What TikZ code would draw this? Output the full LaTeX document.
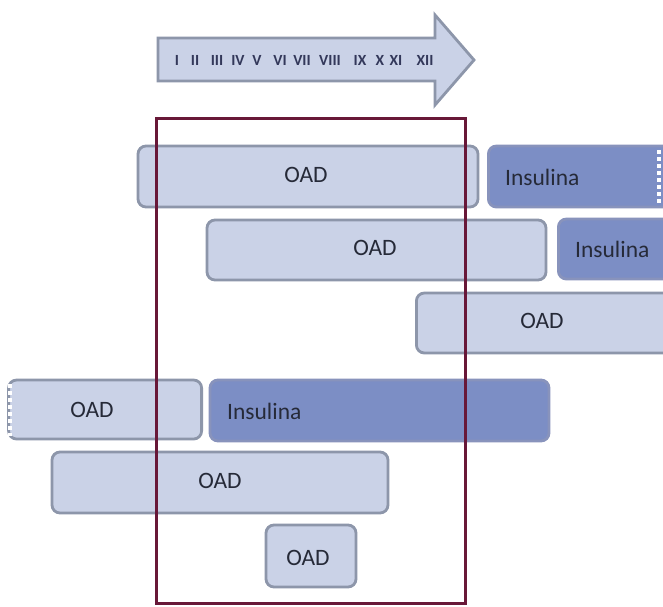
\documentclass[tikz,border=0pt]{standalone}
\usepackage{fontspec}
\setmainfont{Carlito}
\definecolor{lightfill}{HTML}{CAD2E7}
\definecolor{lightdraw}{HTML}{8D96AA}
\definecolor{insfill}{HTML}{7C8EC5}
\definecolor{insdraw}{HTML}{8893BC}
\definecolor{txtcol}{HTML}{262A38}
\definecolor{frame}{HTML}{681838}
\definecolor{numcol}{HTML}{33385A}
\begin{document}
\begin{tikzpicture}[x=1pt,y=-1pt,
  oadbox/.style={draw=lightdraw, fill=lightfill, line width=2.8pt, rounded corners=8pt, inner sep=0pt},
  insbox/.style={draw=insdraw, fill=insfill, line width=2.8pt, rounded corners=8pt, inner sep=0pt},
  oadtxt/.style={inner sep=0pt, font=\fontsize{23.5}{27}\selectfont, text=txtcol},
  instxt/.style={anchor=west, inner sep=0pt, font=\fontsize{23.5}{27}\selectfont, text=txtcol},
  torn/.style={draw=white, line width=3.5pt, dash pattern=on 3.5pt off 3.5pt},
  numtxt/.style={inner sep=0pt, font=\bfseries\fontsize{15.5}{17}\selectfont, text=numcol}]
\path[use as bounding box, clip] (0,0) rectangle (663,606);
\fill[white] (0,0) rectangle (663,606);
% timeline arrow
\draw[draw=lightdraw, fill=lightfill, line width=2.8pt, line join=miter]
  (158,38) -- (435,38) -- (435,15) -- (474,60) -- (435,105) -- (435,81) -- (158,81) -- cycle;
\foreach \n/\x in {I/177, II/195, III/217, IV/238, V/257, VI/280, VII/302, VIII/330, IX/360, X/380, XI/396, XII/425}
  \node[numtxt] (num\n) at (\x,60) {\n};
% row 1
\node[oadbox, minimum width=340pt, minimum height=61pt] (a) at (308,176.5) {};
\node[oadtxt] (at) at (306,175) {OAD};
\node[insbox, minimum width=195pt, minimum height=61pt, anchor=west] (b) at (487,176.5) {};
\node[instxt] (bt) at (505,177) {Insulina};
\draw[torn] (659,150) -- (659,203);
% row 2
\node[oadbox, minimum width=339pt, minimum height=60pt] (c) at (376.5,250) {};
\node[oadtxt] (ct) at (375,248) {OAD};
\node[insbox, minimum width=125pt, minimum height=60pt, anchor=west] (d) at (557,249) {};
\node[instxt] (dt) at (575,249) {Insulina};
% row 3
\node[oadbox, minimum width=270pt, minimum height=60pt, anchor=west] (e) at (415,323) {};
\node[oadtxt] (et) at (542,321) {OAD};
% row 4
\node[oadbox, minimum width=193pt, minimum height=59pt, anchor=east] (f) at (203,409.5) {};
\node[oadtxt] (ft) at (92,410) {OAD};
\draw[torn] (10,384) -- (10,436);
\node[insbox, minimum width=339pt, minimum height=61pt] (g) at (379.5,410.5) {};
\node[instxt] (gt) at (227,411) {Insulina};
% row 5
\node[oadbox, minimum width=336pt, minimum height=61pt] (h) at (220,482.5) {};
\node[oadtxt] (ht) at (220,481) {OAD};
% row 6
\node[oadbox, minimum width=90pt, minimum height=62pt] (i) at (311,556) {};
\node[oadtxt] (it) at (308,558) {OAD};
% frame
\draw[draw=frame, line width=3pt] (156,118) rectangle (465,603);
\end{tikzpicture}
\end{document}
